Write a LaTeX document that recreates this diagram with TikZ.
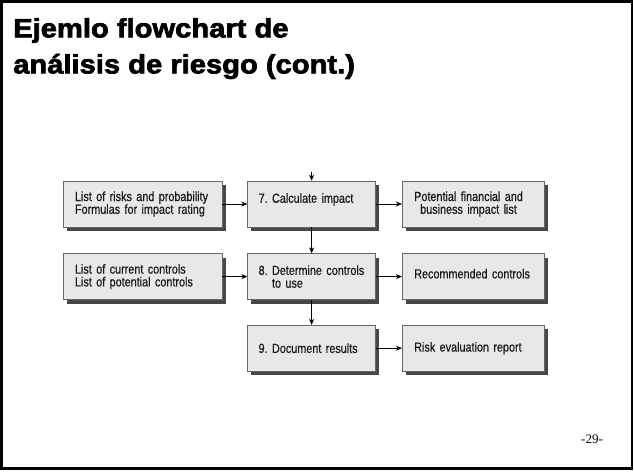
\documentclass[tikz,border=0pt]{standalone}
\usepackage{fontspec}
\usetikzlibrary{arrows.meta,shadows,positioning,calc}
\newfontfamily\headfont[FakeStretch=1.1,FakeBold=2.6]{Liberation Sans}
\newfontfamily\boxfont[FakeStretch=0.82,FakeBold=0.5]{Liberation Sans}
\newfontfamily\pagefont{Liberation Serif}

\begin{document}
\begin{tikzpicture}[x=1pt,y=-1pt,
	box/.style={draw=black!60,fill=black!9,line width=.6pt,
		drop shadow={shadow xshift=3.5pt,shadow yshift=-4pt,fill=black!72,opacity=1},
		text=black!90,font=\boxfont\fontsize{13.2}{12.8}\selectfont\frenchspacing,
		align=left,inner xsep=12pt,minimum height=46pt},
	colA/.style={box,text width=135pt,inner xsep=12pt},
	colB/.style={box,text width=106pt,inner xsep=11pt},
	colC/.style={box,text width=118pt,inner xsep=12pt},
	arr/.style={-{Stealth[length=6pt,width=5pt]},line width=.6pt}]
	\useasboundingbox (0,0) rectangle (634,473);
	\draw[line width=2.2pt] (1.5,1.5) rectangle (632,468.5);
	%
	\node[anchor=north west,inner sep=0,align=left,
		font=\headfont\bfseries\fontsize{26.5}{36}\selectfont] (title) at (13,18)
		{Ejemlo flowchart de\\análisis de riesgo (cont.)};
	\node[anchor=base west,inner sep=0,font=\pagefont\fontsize{13}{13}\selectfont] (page) at (581,443) {-29-};
	%
	\node[colA] (risks) at (142.5,204) {List of risks and probability\\Formulas for impact rating};
	\node[colB,right=25pt of risks,text depth=12pt] (calc) {7. Calculate impact};
	\node[colC,right=26pt of calc] (impact) {Potential financial and\\\hspace*{6pt}business impact list};
	\node[colA,below=26pt of risks] (ctrls) {List of current controls\\List of potential controls};
	\node[colB,below=26pt of calc] (det) {8. Determine controls\\\hphantom{8. }to use};
	\node[colC,below=26pt of impact,text depth=6pt] (rec) {Recommended controls};
	\node[colB,below=25pt of det] (doc) {9. Document results};
	\node[colC,below=25pt of rec] (report) {Risk evaluation report};
	\coordinate (in) at ($(calc.north)+(0,9pt)$);
	%
	\draw[arr] (in) -- (calc);
	\draw[arr] (risks) -- (calc);
	\draw[arr] (calc) -- (impact);
	\draw[arr] (calc) -- (det);
	\draw[arr] (ctrls) -- (det);
	\draw[arr] (det) -- (rec);
	\draw[arr] (det) -- (doc);
	\draw[arr] (doc) -- (report);
\end{tikzpicture}
\end{document}
